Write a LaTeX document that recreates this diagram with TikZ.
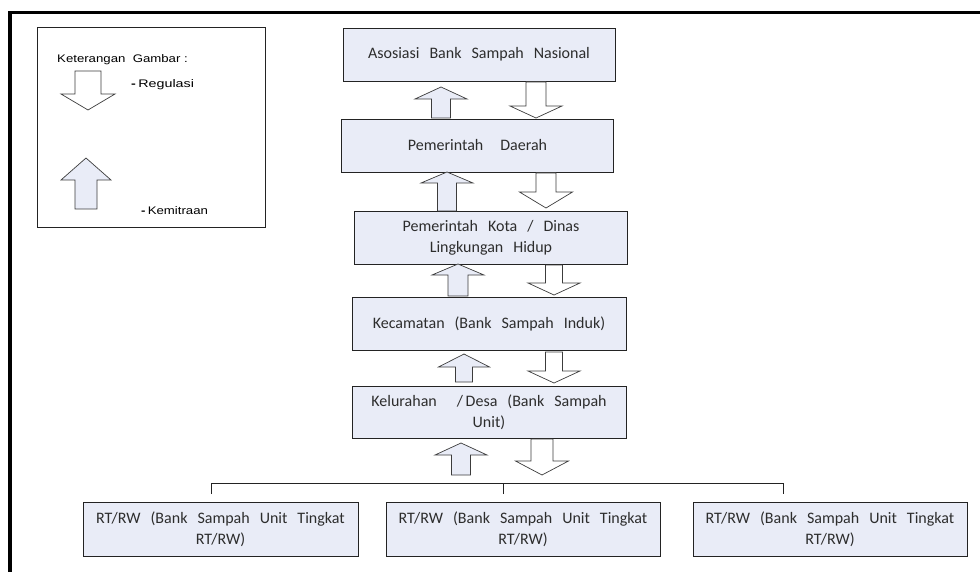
\documentclass[tikz,border=0pt]{standalone}
\usepackage{fontspec}
\setmainfont{Carlito}
\newfontfamily\legendfont{Liberation Sans}
\usetikzlibrary{calc}

\definecolor{boxfill}{RGB}{233,236,247}
\definecolor{boxline}{RGB}{35,35,35}
\definecolor{arrowline}{RGB}{60,60,60}
\definecolor{labeltext}{RGB}{45,45,45}

% block arrow: tip x, tip y, head-base y, tail y, shaft half width, head half width
\newcommand\blockarrow[7][]{%
  \draw[blockarrow,#1] (#2,#3) -- (#2+#7,#4) -- (#2+#6,#4) -- (#2+#6,#5)
    -- (#2-#6,#5) -- (#2-#6,#4) -- (#2-#7,#4) -- cycle;}
\newcommand\widespaces{\spaceskip=10pt plus 1pt\relax}

\begin{document}
\begin{tikzpicture}[x=1pt,y=-1pt,
  levelbox/.style={draw=boxline, line width=0.9pt, fill=boxfill, text=labeltext,
    minimum width=273pt, minimum height=53pt, inner sep=0pt, align=center,
    font=\fontsize{16}{21}\selectfont\widespaces},
  blockarrow/.style={draw=arrowline, line width=0.7pt, fill=white, line join=miter},
  partner/.style={fill=boxfill},
  legendtext/.style={anchor=west, inner sep=0pt, font=\legendfont\fontsize{11}{12}\selectfont},
  busline/.style={draw=boxline, line width=0.9pt},
  frame/.style={line width=3.5pt, black}]
\useasboundingbox (0,0) rectangle (980,572);

% outer frame (top and left edges)
\draw[frame] (10,572) -- (10,12.5) -- (980,12.5);

% legend
\node[draw=boxline, line width=0.8pt, minimum width=228pt, minimum height=200pt, inner sep=0pt]
  (legend) at (151,127) {};
\node[legendtext] (keterangan) at (57,60) {\scalebox{1.2}[1]{Keterangan\ \ Gambar :}};
\blockarrow{88}{110}{94}{71}{13}{27}
\node[legendtext] (regulasi) at (131,85) {\scalebox{1.3}[1]{\textbf{-}\,Regulasi}};
\blockarrow[partner]{86}{158}{180}{209}{11}{25}
\node[legendtext] (kemitraan) at (141,211) {\scalebox{1.2}[1]{\textbf{-}\,Kemitraan}};

% hierarchy levels
\node[levelbox, minimum width=272pt] (asosiasi) at (479,54.5) {Asosiasi Bank Sampah Nasional};
\node[levelbox, minimum width=272pt] (pemda) at (477.5,145.5) {Pemerintah\hspace{17pt}Daerah};
\node[levelbox] (kota) at (491,237.5) {Pemerintah Kota / Dinas\\Lingkungan Hidup};
\node[levelbox, minimum width=274pt] (kecamatan) at (489,323.5) {Kecamatan (Bank Sampah Induk)};
\node[levelbox, minimum width=274pt, minimum height=52pt] (kelurahan) at (489,412)
  {Kelurahan \ /\,Desa (Bank Sampah\\Unit)};

\node[levelbox, minimum width=275pt, minimum height=54pt] (rta) at (220.5,529)
  {RT/RW (Bank Sampah Unit Tingkat\\RT/RW)};
\node[levelbox, minimum width=274pt, minimum height=54pt] (rtb) at (523,529)
  {RT/RW (Bank Sampah Unit Tingkat\\RT/RW)};
\node[levelbox, minimum width=274pt, minimum height=54pt] (rtc) at (830,529)
  {RT/RW (Bank Sampah Unit Tingkat\\RT/RW)};

% partnership (up) and regulation (down) arrows between levels
\blockarrow[partner]{441}{87}{99}{118}{9.5}{26}
\blockarrow{536}{118}{106}{82}{10}{26}
\blockarrow[partner]{447}{172}{183}{211}{9.5}{26}
\blockarrow{546}{208}{192}{173}{10}{26.5}
\blockarrow[partner]{458}{264}{275}{296}{10}{26}
\blockarrow{554}{295}{283}{265}{8.5}{26}
\blockarrow[partner]{464}{354}{367}{382}{8.5}{25.5}
\blockarrow{554}{383}{371}{352}{8.5}{26}
\blockarrow[partner]{461}{443}{455}{475}{9.5}{26}
\blockarrow{542}{475}{461}{439}{11}{26.5}

% branch line to the RT/RW units
\coordinate (ja) at (211,483);
\coordinate (jc) at (783,483);
\coordinate (da) at ($(ja)+(0,11)$);
\coordinate (db) at (503,494);
\coordinate (dc) at ($(jc)+(0,11)$);
\draw[busline] (da) -- (ja) -- (jc) -- (dc);
\draw[busline] (db) -- (db |- ja);
\end{tikzpicture}
\end{document}
